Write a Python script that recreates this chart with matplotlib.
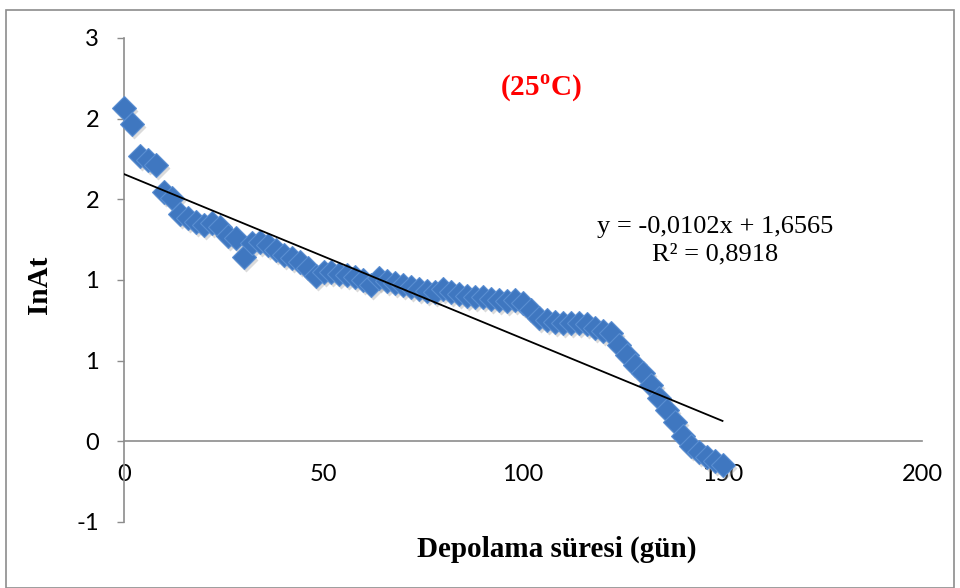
import matplotlib
matplotlib.use("Agg")
import matplotlib.pyplot as plt
from matplotlib.patches import Rectangle
import matplotlib.transforms as mtransforms
import numpy as np

# ---- data ----
days = list(range(0, 152, 2))
ln_at = [2.066, 1.967, 1.768, 1.743, 1.712, 1.545, 1.507, 1.408, 1.383, 1.359,
         1.340, 1.352, 1.328, 1.272, 1.259, 1.141, 1.228, 1.234, 1.216, 1.185,
         1.154, 1.135, 1.110, 1.073, 1.024, 1.048, 1.048, 1.036, 1.030, 1.017,
         0.999, 0.968, 1.011, 0.993, 0.980, 0.968, 0.955, 0.943, 0.931, 0.924,
         0.943, 0.924, 0.912, 0.900, 0.893, 0.893, 0.881, 0.875, 0.868, 0.875,
         0.856, 0.813, 0.763, 0.751, 0.738, 0.732, 0.732, 0.732, 0.726, 0.701,
         0.682, 0.670, 0.596, 0.533, 0.471, 0.422, 0.347, 0.267, 0.192, 0.118,
         0.031, -0.031, -0.068, -0.099, -0.124, -0.149]
slope = -0.0102
intercept = 1.6565
trend_x = [0, 150]
yticks = [-0.5, 0, 0.5, 1.0, 1.5, 2.0, 2.5]
ytick_labels = ["-1", "0", "1", "1", "2", "2", "3"]
xticks = [0, 50, 100, 150, 200]
xtick_labels = ["0", "50", "100", "150", "200"]

plt.rcParams['mathtext.fontset'] = 'custom'
plt.rcParams['mathtext.rm'] = 'Liberation Serif'
plt.rcParams['mathtext.bf'] = 'Liberation Serif:bold'

fig = plt.figure(figsize=(9.6, 5.88), dpi=100)
ax = fig.add_axes([124/960, 1-522/588, (922-124)/960, (522-38)/588])

# soft shadow under markers
shadow_tr = ax.transData + mtransforms.ScaledTranslation(2/100, -3/100, fig.dpi_scale_trans)
ax.plot(days, ln_at, linestyle='none', marker='D', markersize=12.5,
        markerfacecolor='#9A9A9A', markeredgecolor='none', alpha=0.35,
        transform=shadow_tr, zorder=2, clip_on=False)
ax.plot(days, ln_at, linestyle='none', marker='D', markersize=12.5,
        markerfacecolor='#3F77C0', markeredgecolor='#5A8ED2', markeredgewidth=0.8,
        zorder=3, clip_on=False)
tx = np.array(trend_x, dtype=float)
ax.plot(tx, slope * tx + intercept, color='black', linewidth=1.3, zorder=4)

ax.set_xlim(0, 200)
ax.set_ylim(-0.5, 2.5)
for s in ['top', 'right']:
    ax.spines[s].set_visible(False)
ax.spines['bottom'].set_position(('data', 0))
ax.spines['left'].set_color('#8C8C8C')
ax.spines['bottom'].set_color('#8C8C8C')
ax.spines['left'].set_linewidth(1.2)
ax.spines['bottom'].set_linewidth(1.2)

ax.set_yticks(yticks)
ax.set_yticklabels(ytick_labels, fontfamily='Lato', fontsize=17)
ax.set_xticks(xticks)
ax.set_xticklabels(xtick_labels, fontfamily='Lato', fontsize=17)
ax.tick_params(axis='y', direction='out', length=5, width=1, color='#8C8C8C', pad=13)
ax.tick_params(axis='x', direction='out', length=0, width=1, color='#8C8C8C', pad=16)

fig.text(40/960, 1-285/588, 'InAt', rotation=90,
         fontfamily='Liberation Serif', fontweight='bold', fontsize=21,
         ha='center', va='center')
fig.text(557/960, 1-549/588, 'Depolama süresi (gün)', fontfamily='Liberation Serif',
         fontweight='bold', fontsize=21, ha='center', va='center')

fig.text(541/960, 1-88/588, r'(25$^{\mathbf{o}}$C)', color='red',
         fontfamily='Liberation Serif', fontweight='bold', fontsize=21,
         ha='center', va='center')
fig.text(715/960, 1-227/588, 'y = -0,0102x + 1,6565',
         fontfamily='Liberation Serif', fontsize=19, ha='center', va='center')
fig.text(715/960, 1-254/588, 'R² = 0,8918',
         fontfamily='Liberation Serif', fontsize=19, ha='center', va='center')

fig.patches.append(Rectangle((6/960, 0), 948/960, 1-10/588, transform=fig.transFigure,
                             fill=False, edgecolor='#8C8C8C', linewidth=1.2))

fig.savefig('out.png', dpi=100)
